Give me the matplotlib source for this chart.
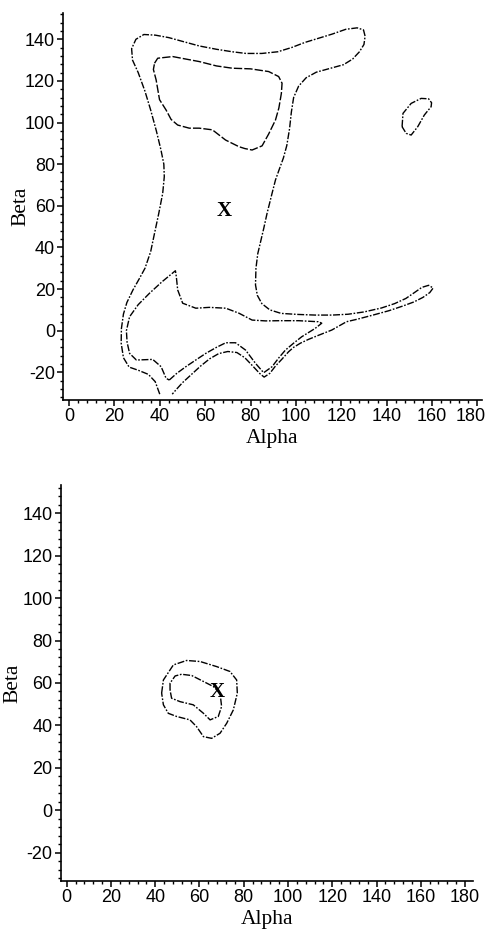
import matplotlib
matplotlib.use("Agg")
import matplotlib.pyplot as plt
from matplotlib.ticker import MultipleLocator
from matplotlib.transforms import ScaledTranslation

# top panel, outer contour (open, cut by the lower axis limit)
outer_alpha = [40.0, 38.0, 35.0, 30.5, 26.5, 24.0, 23.0, 23.1, 24.0, 25.5, 28.2, 31.0,
               33.5, 36.0, 37.7, 39.5, 41.3, 42.0, 41.8, 40.5, 38.5, 36.0, 33.5, 30.5,
               28.0, 27.6, 29.5, 33.0, 38.0, 44.0, 50.0, 57.4, 65.0, 72.0, 78.0, 85.0,
               92.0, 98.0, 104.0, 110.0, 116.0, 122.0, 127.0, 129.8, 130.5, 130.0, 128.0,
               125.0, 121.0, 115.0, 109.0, 104.5, 101.2, 99.0, 98.0, 97.2, 96.0, 94.5,
               92.5, 91.0, 89.5, 87.3, 85.8, 84.5, 83.2, 82.4, 82.2, 83.0, 85.0, 88.5,
               93.5, 101.0, 108.5, 116.0, 123.0, 130.0, 137.7, 143.5, 148.5, 152.5, 155.5,
               158.5, 160.5, 159.0, 156.0, 152.0, 147.0, 141.0, 134.0, 127.0, 122.3, 115.8,
               110.0, 105.5, 102.0, 99.0, 96.8, 94.0, 91.0, 88.5, 86.0, 84.0, 81.0, 77.5,
               74.0, 70.0, 66.0, 62.0, 58.0, 54.0, 50.0, 47.5, 45.5]
outer_beta = [-30.5, -24.5, -21.0, -19.0, -17.5, -13.0, -6.0, 1.0, 8.0, 13.5, 19.6, 25.0,
              30.0, 38.0, 46.8, 56.0, 66.0, 74.0, 80.0, 87.0, 96.0, 106.0, 115.0, 124.0,
              130.0, 135.5, 140.0, 142.3, 142.0, 140.8, 139.0, 136.8, 135.2, 134.0, 133.2,
              133.2, 134.0, 136.0, 138.5, 140.5, 142.5, 144.8, 145.5, 144.5, 141.5, 137.5,
              134.0, 130.5, 127.8, 126.0, 124.2, 121.5, 117.5, 112.0, 105.0, 97.0, 89.0,
              83.0, 77.0, 72.4, 66.0, 56.4, 49.0, 43.0, 37.0, 30.0, 22.0, 17.0, 13.0,
              10.0, 8.3, 7.8, 7.5, 7.5, 7.9, 9.0, 10.9, 13.0, 15.5, 18.5, 20.8, 21.8,
              20.5, 18.3, 16.0, 13.8, 11.8, 9.6, 7.5, 5.5, 4.3, 0.3, -2.2, -4.2, -6.0,
              -8.0, -10.1, -13.5, -17.0, -20.5, -22.3, -20.5, -17.0, -13.0, -10.5, -10.0,
              -11.0, -13.5, -17.0, -21.0, -25.0, -28.0, -30.5]

# top panel, inner upper loop
upper_alpha = [37.7, 39.1, 45.7, 51.5, 57.4, 65.0, 72.0, 80.0, 88.0, 92.4, 93.9, 93.6,
               92.5, 91.0, 88.0, 85.1, 80.7, 77.5, 74.9, 69.0, 63.2, 57.4, 53.0, 47.9,
               45.0, 42.8, 39.9, 38.4, 37.2, 37.7]
upper_beta = [128.5, 130.9, 131.7, 130.5, 129.3, 127.2, 126.1, 125.8, 124.5, 122.1, 118.9,
              114.0, 107.0, 101.2, 94.5, 88.8, 86.8, 87.5, 88.4, 91.6, 96.5, 97.3, 97.3,
              98.8, 101.5, 106.0, 111.0, 120.5, 125.5, 128.5]

# top panel, inner lower loop
lower_alpha = [44.2, 47.5, 51.5, 56.0, 60.3, 65.0, 69.1, 73.4, 77.8, 82.2, 85.8, 89.5,
               92.5, 95.4, 99.0, 102.6, 108.5, 111.4, 109.9, 101.2, 93.0, 86.6, 80.7,
               74.9, 69.1, 61.8, 55.9, 50.1, 47.9, 47.3, 46.9, 41.0, 35.5, 30.5, 26.7,
               25.3, 25.6, 26.7, 29.7, 36.9, 40.6, 42.8, 44.2]
lower_beta = [-23.7, -20.5, -17.3, -14.0, -10.9, -8.0, -5.8, -5.8, -9.3, -15.7, -20.2,
              -17.3, -13.0, -9.3, -6.0, -2.9, 1.1, 3.6, 4.3, 4.8, 4.8, 4.7, 5.1, 8.4,
              10.8, 11.2, 10.8, 13.2, 19.6, 26.0, 28.8, 23.5, 18.0, 12.5, 6.7, 0.0,
              -5.5, -10.9, -14.1, -13.8, -17.3, -22.9, -23.7]

# top panel, small loop on the right
side_alpha = [146.8, 147.2, 150.8, 155.2, 158.5, 159.8, 159.6, 158.0, 156.6, 153.7,
              150.8, 148.6, 146.8]
side_beta = [98.0, 104.4, 109.2, 111.6, 111.4, 109.5, 107.6, 105.5, 103.6, 98.0,
             94.0, 94.8, 98.0]

# bottom panel loops
ring_alpha = [42.9, 43.7, 48.2, 54.2, 60.3, 67.8, 73.8, 76.8, 77.1, 75.3, 72.3, 69.3,
              65.5, 61.8, 58.7, 55.7, 49.7, 45.9, 43.7, 42.9]
ring_beta = [55.2, 61.4, 68.5, 70.6, 70.1, 67.7, 65.4, 61.4, 55.2, 47.3, 41.0, 36.3,
             33.9, 34.7, 39.4, 42.6, 44.2, 45.7, 49.7, 55.2]
core_alpha = [46.7, 46.7, 49.0, 51.9, 56.5, 61.8, 66.3, 69.3, 70.0, 68.5, 64.8, 61.8,
              57.2, 51.2, 47.4, 46.7]
core_beta = [56.7, 59.9, 63.3, 64.1, 63.5, 60.7, 58.3, 55.2, 48.9, 44.2, 42.6, 45.7,
             49.7, 51.2, 52.8, 56.7]

marker_top = (68.2, 57.5)
marker_bottom = (67.8, 55.9)

x_ticks = list(range(0, 181, 20))
y_ticks = list(range(-20, 141, 20))

tick_font = {"family": "Liberation Sans", "size": 13}
label_font = {"family": "Liberation Serif", "size": 15.5}
dash_dot = (0, (5, 1.2, 1.2, 1.2))
dashed = (0, (6, 1.5))

fig = plt.figure(figsize=(4.92, 9.3), dpi=100)
ax1 = fig.add_axes([0.1287, 0.5699, 0.8504, 0.4165])
ax2 = fig.add_axes([0.1234, 0.0530, 0.838, 0.4255])


def style_axes(ax, xlim, ylim, ypad):
    ax.set_xlim(*xlim)
    ax.set_ylim(*ylim)
    for side in ("top", "right"):
        ax.spines[side].set_visible(False)
    for side in ("left", "bottom"):
        ax.spines[side].set_linewidth(1.2)
    ax.set_xticks(x_ticks)
    ax.set_yticks(y_ticks)
    ax.xaxis.set_minor_locator(MultipleLocator(4))
    ax.yaxis.set_minor_locator(MultipleLocator(4))
    ax.tick_params(which="major", direction="out", length=4, width=1.1, pad=2)
    ax.tick_params(which="minor", direction="out", length=2, width=1.0)
    ax.set_xticklabels([str(t) for t in x_ticks], fontdict=tick_font)
    ax.set_yticklabels([str(t) for t in y_ticks], fontdict=tick_font)
    ax.set_xlabel("Alpha", fontdict=label_font, labelpad=3)
    ax.set_ylabel("Beta", fontdict=label_font, labelpad=ypad)


ax1.plot(outer_alpha, outer_beta, color="black", lw=1.0, ls=dash_dot)
ax1.plot(upper_alpha, upper_beta, color="black", lw=1.0, ls=dashed)
ax1.plot(lower_alpha, lower_beta, color="black", lw=1.0, ls=dash_dot)
ax1.plot(side_alpha, side_beta, color="black", lw=1.0, ls=dash_dot)
ax1.text(marker_top[0], marker_top[1], "X", ha="center", va="center",
         family="Liberation Serif", weight="bold", size=15)
style_axes(ax1, (-2.5, 181.9), (-33.3, 152.8), -4)

# last label sits at the figure edge; nudge it left a little
last = ax1.get_xticklabels()[-1]
last.set_transform(last.get_transform() + ScaledTranslation(-5 / 72, 0, fig.dpi_scale_trans))

ax2.plot(ring_alpha, ring_beta, color="black", lw=1.0, ls=dash_dot)
ax2.plot(core_alpha, core_beta, color="black", lw=1.0, ls=dash_dot)
ax2.text(marker_bottom[0], marker_bottom[1], "X", ha="center", va="center",
         family="Liberation Serif", weight="bold", size=15)
style_axes(ax2, (-2.7, 183.6), (-33.2, 153.3), 0)

fig.savefig("out.png", dpi=100)
